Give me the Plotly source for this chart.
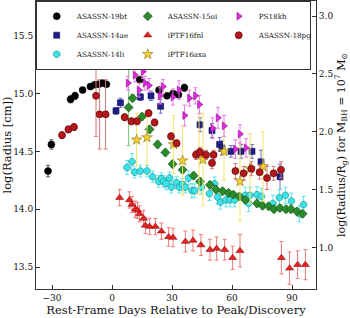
import plotly.graph_objects as go

# ---------------- data ----------------
RG_OFFSET = 12.67  # log(Radius/Rg) = log(Radius) - RG_OFFSET

names = ["ASASSN-19bt", "ASASSN-14ae", "ASASSN-14li", "ASASSN-15oi",
         "iPTF16fnl", "iPTF16axa", "PS18kh", "ASASSN-18pg"]

d_19bt = [-32, -30.3, -20.7, -18.5, -14.7, -10.8, -8.7, -6.7, -4.8, -2.8,
          13.8, 23.5, 27.5, 30.5, 33.2, 36.2]
r_19bt = [14.33, 14.56, 14.95, 14.98, 15.03, 15.06, 15.075, 15.08, 15.09, 15.08,
          15.12, 15.03, 14.98, 15.00, 14.99, 15.05]
e_19bt = [0.05, 0.04, 0.03, 0.03, 0.02, 0.02, 0.02, 0.02, 0.02, 0.02,
          0.02, 0.02, 0.02, 0.02, 0.02, 0.03]

d_14ae = [2, 4.2, 14.2, 19.5, 24.3, 44, 50, 53.8, 55, 59.5, 64.5, 70, 74.5, 84]
r_14ae = [14.85, 14.92, 14.97, 14.98, 14.89, 14.73, 14.68, 14.56, 14.53, 14.50,
          14.50, 14.50, 14.41, 14.28]
e_14ae = [0.03, 0.04, 0.03, 0.04, 0.06, 0.06, 0.06, 0.06, 0.06, 0.05,
          0.06, 0.06, 0.10, 0.11]

d_14li = [7.5, 10, 11.3, 14.2, 17.5, 20.3, 23.3, 24.7, 25.8, 27, 28.8, 29.7,
          32.2, 33.7, 35.2, 36.7, 38.3, 40, 41.3, 44.7, 48.7, 51.3, 52.8, 54.2,
          57, 59, 61.3, 66.7, 68.3, 69, 72.5, 74.7, 80.5, 83.7, 86.7, 89.7,
          93.7, 95.8]
r_14li = [14.36, 14.41, 14.32, 14.33, 14.33, 14.28, 14.24, 14.265, 14.24, 14.22,
          14.27, 14.19, 14.23, 14.19, 14.215, 14.19, 14.27, 14.16, 14.16, 14.19,
          14.135, 14.22, 14.105, 14.06, 14.08, 14.08, 14.08, 14.12, 14.05, 14.12,
          14.125, 14.11, 14.05, 14.10, 14.12, 14.07, 13.96, 14.04]
e_14li = [0.06, 0.07, 0.05, 0.05, 0.05, 0.05, 0.05, 0.05, 0.05, 0.05,
          0.05, 0.05, 0.05, 0.05, 0.05, 0.05, 0.06, 0.06, 0.06, 0.06,
          0.06, 0.06, 0.06, 0.06, 0.06, 0.06, 0.06, 0.07, 0.07, 0.07,
          0.07, 0.07, 0.07, 0.07, 0.07, 0.07, 0.07, 0.07]

d_15oi = [8.3, 10.3, 15, 18.8, 22.8, 26.7, 30.3, 35.3, 40.8, 44, 49, 52, 55.3,
          58.3, 60.7, 63.7, 66.7, 72.5, 75.3, 78.3, 81, 84, 87, 89.5, 92.5, 95.3]
r_15oi = [14.88, 14.96, 14.80, 14.69, 14.56, 14.49, 14.39, 14.34, 14.29, 14.24,
          14.21, 14.17, 14.155, 14.14, 14.125, 14.11, 14.08, 14.05, 14.03, 14.025,
          14.00, 14.01, 14.00, 14.00, 13.98, 13.96]
e_15oi = [0.33, 0.03, 0.03, 0.03, 0.03, 0.03, 0.03, 0.03, 0.03, 0.03,
          0.03, 0.03, 0.03, 0.03, 0.03, 0.03, 0.03, 0.03, 0.03, 0.03,
          0.03, 0.03, 0.03, 0.03, 0.03, 0.03]

d_16fnl = [3.8, 8.7, 10, 11.7, 12.8, 13.8, 15.8, 16.7, 18.8, 21.7, 24.7, 28.3,
           30.5, 36.7, 40.5, 44.5, 49, 52.3, 56.3, 60.3, 64, 84.7, 88.8, 92.8, 96.7]
r_16fnl = [14.10, 14.08, 14.04, 14.00, 13.99, 13.96, 13.92, 13.86, 13.85, 13.85,
           13.81, 13.76, 13.755, 13.72, 13.73, 13.69, 13.65, 13.66, 13.65, 13.58,
           13.64, 13.58, 13.49, 13.52, 13.52]
e_16fnl = [0.07, 0.07, 0.07, 0.07, 0.07, 0.07, 0.07, 0.07, 0.07, 0.07,
           0.07, 0.08, 0.08, 0.09, 0.09, 0.09, 0.09, 0.10, 0.09, 0.10,
           0.14, 0.14, 0.14, 0.12, 0.13]

d_16axa = [12.3, 17.5, 30.8, 35.3, 43.5, 45.5, 56, 64, 69, 75.5]
r_16axa = [14.60, 14.62, 14.56, 14.42, 14.48, 14.43, 14.50, 14.24, 14.35, 14.37]
e_16axa = [0.23, 0.23, 0.25, 0.30, 0.35, 0.40, 0.25, 0.34, 0.30, 0.30]

d_18kh = [8, 11.5, 13.5, 15.5, 16.5, 18.5, 24, 25.5, 30.5, 33.5, 36.3, 38.7,
          41.7, 43.7, 50.3, 53, 56, 61.7, 64, 67]
r_18kh = [15.09, 15.16, 15.03, 15.19, 15.09, 15.07, 14.98, 15.06, 14.97, 15.03,
          14.81, 14.96, 14.98, 14.905, 14.70, 14.79, 14.72, 14.52, 14.65, 14.53]
e_18kh = [0.06, 0.06, 0.06, 0.06, 0.06, 0.06, 0.07, 0.06, 0.07, 0.08,
          0.09, 0.07, 0.07, 0.08, 0.09, 0.09, 0.09, 0.08, 0.08, 0.08]

d_18pg = [-25, -21.8, -19, -8, -6.2, -3.2, 6.3, 9.7, 12.5, 18.3, 21.3, 29.5,
          32.3, 42, 44, 47, 50, 50.8, 61.7, 65.8, 69.7, 73.8, 77.5, 80.8, 84.5]
r_18pg = [14.64, 14.69, 14.71, 14.98, 14.82, 14.82, 14.795, 14.76, 14.76, 14.83,
          14.75, 14.63, 14.57, 14.47, 14.495, 14.47, 14.40, 14.47, 14.33, 14.31,
          14.35, 14.32, 14.27, 14.31, 14.34]
e_18pg = [0.03, 0.03, 0.03, 0.35, 0.30, 0.30, 0.03, 0.03, 0.03, 0.03,
          0.03, 0.03, 0.03, 0.04, 0.04, 0.04, 0.05, 0.04, 0.065, 0.06,
          0.06, 0.06, 0.10, 0.06, 0.07]

x_ticks = [-30, 0, 30, 60, 90]
y_ticks = [13.5, 14.0, 14.5, 15.0, 15.5]
y2_ticks = [1.0, 1.5, 2.0, 2.5, 3.0]

# ---------------- styles ----------------
series = [
    (d_19bt, r_19bt, e_19bt, dict(symbol="circle", size=7, color="#000000",
                                   line=dict(color="#000000", width=0.5)), "#555555", 1),
    (d_14ae, r_14ae, e_14ae, dict(symbol="square", size=6, color="#1e1e8c",
                                   line=dict(color="#0b0b4a", width=0.6)), "#7070c0", 4),
    (d_14li, r_14li, e_14li, dict(symbol="octagon", size=7, color="#3be3e6",
                                   line=dict(color="#1a8a8c", width=0.6)), "#5ee8ee", 7),
    (d_15oi, r_15oi, e_15oi, dict(symbol="diamond", size=7, color="#2b8a2b",
                                   line=dict(color="#144a14", width=0.6)), "#78c878", 2),
    (d_16fnl, r_16fnl, e_16fnl, dict(symbol="triangle-up", size=7, color="#e8221e",
                                     line=dict(color="#8a1010", width=0.6)), "#f07a7a", 5),
    (d_16axa, r_16axa, e_16axa, dict(symbol="star", size=8, color="#f3d22c",
                                     line=dict(color="#8a7010", width=0.6)), "#f7e36a", 8),
    (d_18kh, r_18kh, e_18kh, dict(symbol="triangle-right", size=7, color="#e22ae2",
                                  line=dict(color="#801080", width=0.6)), "#ea7aea", 3),
    (d_18pg, r_18pg, e_18pg, dict(symbol="circle", size=7, color="#b5161a",
                                  line=dict(color="#5a0a0a", width=0.7)), "#d87878", 6),
]

FONT = "DejaVu Serif"

fig = go.Figure()
for name, (dx, ry, ey, mk, ecol, rank) in zip(names, series):
    fig.add_trace(go.Scatter(
        x=dx, y=ry, mode="markers", name=name, marker=mk, legendrank=rank,
        error_y=dict(type="data", array=ey, color=ecol, thickness=1, width=2),
    ))

# empty companion on the right-hand axis so that it is drawn
fig.add_trace(go.Scatter(x=[], y=[], yaxis="y2", showlegend=False, hoverinfo="skip"))

fig.update_layout(
    width=350, height=318,
    margin=dict(l=36, r=34, t=1, b=29, autoexpand=False),
    paper_bgcolor="white", plot_bgcolor="white",
    font=dict(family=FONT, color="#111111"),
    showlegend=True,
    legend=dict(
        orientation="h", x=-0.001, y=1.001, xanchor="left", yanchor="top",
        bgcolor="white", bordercolor="#333333", borderwidth=1,
        font=dict(family=FONT, size=7.2, color="#111111"),
        entrywidth=46, traceorder="normal",
    ),
    xaxis=dict(
        range=[-38, 102], tickvals=x_ticks, ticks="inside", ticklen=4,
        tickcolor="#333333", showline=True, linecolor="#333333", linewidth=1,
        mirror="ticks", showgrid=False, zeroline=False, automargin=False,
        tickfont=dict(family=FONT, size=9),
        title=dict(text="Rest-Frame Days Relative to Peak/Discovery",
                   font=dict(family=FONT, size=11.5), standoff=2),
    ),
    yaxis=dict(
        range=[13.31, 15.80], tickvals=y_ticks, tickformat=".1f",
        ticks="inside", ticklen=4, tickcolor="#333333",
        showline=True, linecolor="#333333", linewidth=1,
        showgrid=False, zeroline=False, automargin=False,
        tickfont=dict(family=FONT, size=9),
        title=dict(text="log(Radius [cm])", font=dict(family=FONT, size=11.5), standoff=3),
    ),
    yaxis2=dict(
        overlaying="y", side="right",
        range=[13.31 - RG_OFFSET, 15.80 - RG_OFFSET], tickvals=y2_ticks, tickformat=".1f",
        ticks="inside", ticklen=4, tickcolor="#333333",
        showline=True, linecolor="#333333", linewidth=1,
        showgrid=False, zeroline=False, automargin=False,
        tickfont=dict(family=FONT, size=9),
        title=dict(text="log(Radius/R<sub>g</sub>) for M<sub>BH</sub> = 10<sup>7</sup> M<sub>⊙</sub>",
                   font=dict(family=FONT, size=11), standoff=2),
    ),
)

fig.write_html("out.html", config={"displayModeBar": False},
               post_script="document.body.style.margin='0';")
